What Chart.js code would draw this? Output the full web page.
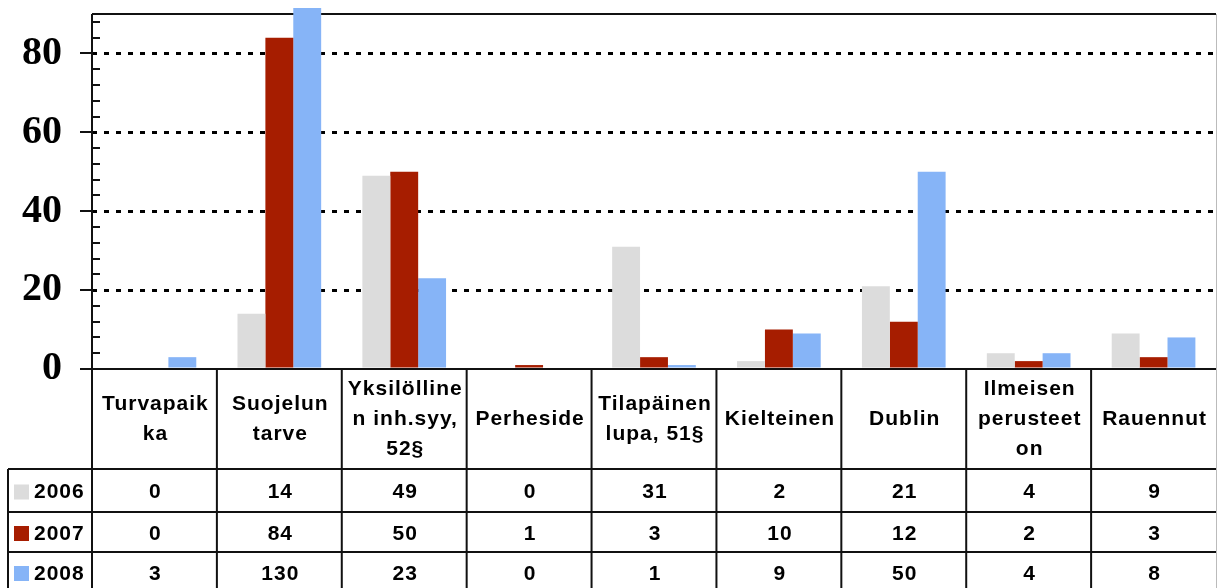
<!DOCTYPE html>
<html>
<head>
<meta charset="utf-8">
<script src="https://cdn.jsdelivr.net/npm/chart.js@4/dist/chart.umd.min.js"></script>
<style>
  body { margin: 0; background: #fff; }
  canvas { display: block; }
</style>
</head>
<body>
<canvas id="chart" width="1218" height="588"></canvas>
<script>
const categories = [
    ['Turvapaik', 'ka'],
    ['Suojelun', 'tarve'],
    ['Yksilölline', 'n inh.syy,', '52§'],
    ['Perheside'],
    ['Tilapäinen', 'lupa, 51§'],
    ['Kielteinen'],
    ['Dublin'],
    ['Ilmeisen', 'perusteet', 'on'],
    ['Rauennut']
];
const seriesNames = ['2006', '2007', '2008'];
const values2006 = [0, 14, 49, 0, 31, 2, 21, 4, 9];
const values2007 = [0, 84, 50, 1, 3, 10, 12, 2, 3];
const values2008 = [3, 130, 23, 0, 1, 9, 50, 4, 8];
const seriesColors = ['#dcdcdc', '#a61d00', '#86b4f7'];

const yMax = 90;
const tableFont = 'bold 21px "Liberation Sans", Arial, sans-serif';

// ticks, borders and the data table under the plot
const tablePlugin = {
    id: 'tablePlugin',
    beforeDatasetsDraw(chart) {
        const ctx = chart.ctx;
        const area = chart.chartArea;
        ctx.save();
        ctx.strokeStyle = '#111';
        ctx.lineWidth = 2;
        ctx.beginPath();
        ctx.moveTo(area.left, area.top);
        ctx.lineTo(area.right, area.top);
        ctx.stroke();
        ctx.strokeStyle = '#bbb';
        ctx.lineWidth = 1;
        ctx.beginPath();
        ctx.moveTo(area.right + 0.5, area.top);
        ctx.lineTo(area.right + 0.5, chart.height);
        ctx.stroke();
        ctx.restore();
    },
    afterDraw(chart) {
        const ctx = chart.ctx;
        const area = chart.chartArea;
        const x = chart.scales.x;
        const y = chart.scales.y;
        ctx.save();
        ctx.strokeStyle = '#111';
        ctx.lineWidth = 2;

        // y axis line + tick marks
        ctx.beginPath();
        ctx.moveTo(area.left, area.top);
        ctx.lineTo(area.left, area.bottom);
        for (let v = 0; v <= 88; v += 4) {
            const py = Math.round(y.getPixelForValue(v));
            if (v % 20 === 0) {
                ctx.moveTo(area.left - 12, py);
                ctx.lineTo(area.left, py);
            } else {
                ctx.moveTo(area.left, py);
                ctx.lineTo(area.left + 8, py);
            }
        }
        ctx.stroke();

        // table grid
        const colW = (area.right - area.left) / categories.length;
        const headerBottom = area.bottom + 100;
        const rowH = [43, 40, 40];
        const legendLeft = 8;
        ctx.beginPath();
        ctx.moveTo(area.left, area.bottom);
        ctx.lineTo(area.right, area.bottom);
        for (let i = 0; i < categories.length; i++) {
            const lx = area.left + i * colW;
            ctx.moveTo(lx, area.bottom);
            ctx.lineTo(lx, chart.height);
        }
        let ry = headerBottom;
        const rowCenters = [];
        for (let r = 0; r < seriesNames.length; r++) {
            ctx.moveTo(legendLeft, ry);
            ctx.lineTo(area.right, ry);
            rowCenters.push(ry + rowH[r] / 2 + 2);
            ry += rowH[r];
        }
        ctx.moveTo(legendLeft, headerBottom);
        ctx.lineTo(legendLeft, chart.height);
        ctx.stroke();

        // header labels
        ctx.fillStyle = '#000';
        ctx.font = tableFont;
        ctx.letterSpacing = '1px';
        ctx.textAlign = 'center';
        ctx.textBaseline = 'middle';
        const lineH = 30;
        const headerMid = area.bottom + 50;
        categories.forEach((lines, i) => {
            const cx = x.getPixelForValue(i) + 1;
            const startY = headerMid - (lines.length - 1) * lineH / 2;
            lines.forEach((t, k) => ctx.fillText(t, cx, startY + k * lineH));
        });

        // values and legend
        const allValues = [values2006, values2007, values2008];
        allValues.forEach((vals, r) => {
            const cy = rowCenters[r];
            vals.forEach((v, i) => {
                ctx.textAlign = 'center';
                ctx.fillText(String(v), x.getPixelForValue(i) + 1, cy);
            });
            ctx.fillStyle = seriesColors[r];
            ctx.fillRect(14, cy - 8, 15, 15);
            ctx.fillStyle = '#000';
            ctx.textAlign = 'left';
            ctx.fillText(seriesNames[r], 34, cy);
        });
        ctx.restore();
    }
};

const barClip = { left: 5, top: 6, right: 5, bottom: 0 };

new Chart(document.getElementById('chart'), {
    type: 'bar',
    data: {
        labels: categories.map(c => c.join(' ')),
        datasets: [
            { label: seriesNames[0], data: values2006, backgroundColor: seriesColors[0], clip: barClip },
            { label: seriesNames[1], data: values2007, backgroundColor: seriesColors[1], clip: barClip },
            { label: seriesNames[2], data: values2008, backgroundColor: seriesColors[2], clip: barClip }
        ]
    },
    options: {
        responsive: false,
        animation: false,
        layout: { padding: { top: 14, right: 2, left: 0, bottom: 0 } },
        datasets: { bar: { categoryPercentage: 0.67, barPercentage: 1 } },
        plugins: { legend: { display: false }, tooltip: { enabled: false } },
        scales: {
            x: {
                grid: { display: false },
                border: { display: false },
                ticks: { display: false },
                afterFit: s => { s.height = 219; }
            },
            y: {
                min: 0,
                max: yMax,
                afterFit: s => { s.width = 92; s.paddingTop = 0; s.paddingBottom = 0; },
                grid: {
                    drawTicks: false,
                    color: c => (c.tick && c.tick.value % 20 === 0 && c.tick.value > 0) ? '#000' : 'rgba(0,0,0,0)',
                    lineWidth: 3
                },
                border: { display: false, dash: [5, 7] },
                ticks: {
                    stepSize: 20,
                    includeBounds: false,
                    padding: 30,
                    color: '#000',
                    font: { family: '"Liberation Serif", "Times New Roman", serif', size: 40, weight: 'bold' }
                }
            }
        }
    },
    plugins: [tablePlugin]
});
</script>
</body>
</html>
